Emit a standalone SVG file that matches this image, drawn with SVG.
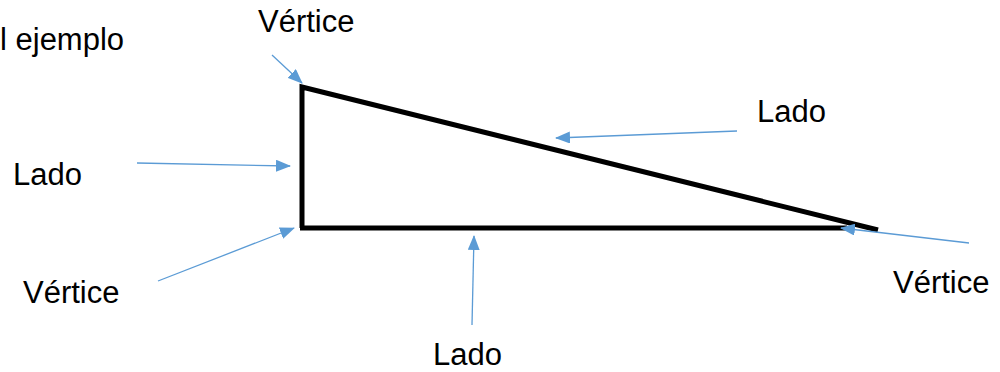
<svg xmlns="http://www.w3.org/2000/svg" width="1000" height="372" viewBox="0 0 1000 372">
<defs>
<marker id="ah" markerWidth="15" markerHeight="12" refX="14" refY="6" orient="auto" markerUnits="userSpaceOnUse">
<path d="M0,0 L15,6 L0,12 z" fill="#5b9bd5"/>
</marker>
<style>
.lbl{font-family:"Liberation Sans",Arial,sans-serif;font-size:31px;fill:#000}
.arr{stroke:#5b9bd5;stroke-width:1.3;fill:none;marker-end:url(#ah)}
.tri{stroke:#000;stroke-width:5;fill:none;stroke-linejoin:miter}
</style>
</defs>
<g id="triangle">
<path class="tri" d="M302,228 L302,87 L878,230"/>
<path class="tri" d="M300,228 L847,228"/>
</g>
<g id="connectors">
<line class="arr" x1="272" y1="55" x2="302" y2="83"/>
<line class="arr" x1="137" y1="163" x2="290" y2="166"/>
<line class="arr" x1="158" y1="281" x2="294" y2="228"/>
<line class="arr" x1="737" y1="131" x2="556" y2="138"/>
<line class="arr" x1="472" y1="325" x2="474" y2="236"/>
<line class="arr" x1="969" y1="243" x2="841" y2="228"/>
</g>
<g id="labels">
<text class="lbl" x="0" y="50">l ejemplo</text>
<text class="lbl" x="258" y="32">Vértice</text>
<text class="lbl" x="13" y="185">Lado</text>
<text class="lbl" x="23" y="303">Vértice</text>
<text class="lbl" x="757" y="122">Lado</text>
<text class="lbl" x="893" y="293">Vértice</text>
<text class="lbl" x="433" y="365">Lado</text>
</g>
</svg>
